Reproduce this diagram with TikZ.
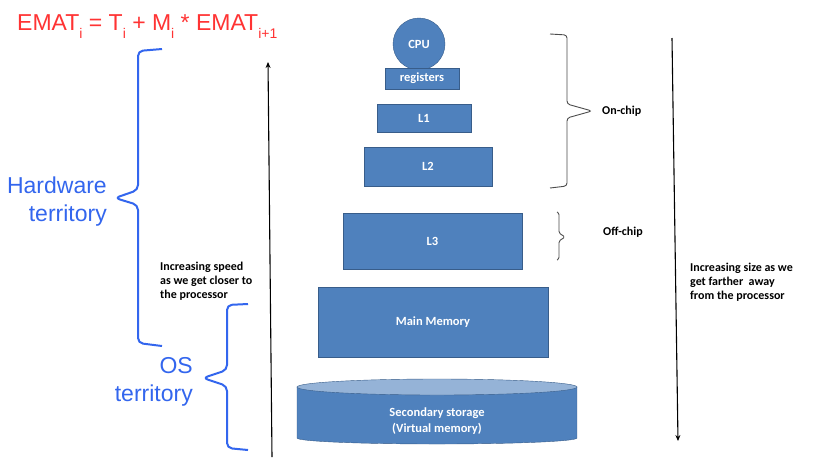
\documentclass[tikz,border=0pt]{standalone}
\usepackage{fontspec}
\setmainfont{Carlito}
\newfontfamily\arialfont{Liberation Sans}
\usetikzlibrary{arrows.meta}
\definecolor{levelblue}{HTML}{4F81BD}
\definecolor{leveledge}{HTML}{385D8A}
\definecolor{disktop}{HTML}{95B3D7}
\definecolor{emared}{HTML}{FF3333}
\definecolor{terrblue}{HTML}{3366EE}
\tikzstyle{level} = [draw=leveledge, fill=levelblue, text=white,
    font=\fontsize{12.5}{14}\selectfont\bfseries, inner sep=0]
\tikzstyle{note} = [font=\fontsize{12}{14}\selectfont\bfseries, align=left, inner sep=0]
\tikzstyle{chipbrace} = [draw=black!70, line width=0.9pt, rounded corners=3pt]
\tikzstyle{terrbrace} = [draw=terrblue, line width=2pt, rounded corners=5pt]
\tikzstyle{terrtext} = [text=terrblue, font=\arialfont\fontsize{23}{28}\selectfont,
    align=right, inner sep=0]
\tikzstyle{axis} = [line width=1.1pt, -{Stealth[length=6pt,width=5pt]}]
\newcommand{\lowsub}[1]{\raisebox{-8pt}{\fontsize{14}{14}\selectfont #1}}

\begin{document}
\begin{tikzpicture}[x=1pt, y=-1pt]
    \useasboundingbox[fill=white] (0,0) rectangle (814,475);

    \node[text=emared, font=\arialfont\fontsize{23}{28}\selectfont, anchor=base west,
        inner sep=0] (ematline) at (17,30)
        {EMAT\lowsub{i} = T\lowsub{i} + M\lowsub{i} * EMAT\lowsub{i+1}};

    % memory levels
    \node[level, circle, minimum size=52pt] (cpu) at (419,44) {CPU};
    \node[level, minimum width=74pt, minimum height=21pt] (regs) at (422,78.5) {registers};
    \node[level, minimum width=94pt, minimum height=28pt] (lone) at (424,118) {L1};
    \node[level, minimum width=128pt, minimum height=39pt] (ltwo) at (428,166.5) {L2};
    \node[level, minimum width=179pt, minimum height=56pt] (lthree) at (432.5,241) {L3};
    \node[level, minimum width=230pt, minimum height=70pt] (mainmem) at (433,322) {Main Memory};

    % disk
    \fill[levelblue] (297,387) rectangle (577,438);
    \fill[levelblue] (437,438) ellipse[x radius=140, y radius=6];
    \draw[leveledge] (297,387) -- (297,438)
        arc[start angle=180, end angle=0, x radius=140, y radius=6] -- (577,387);
    \draw[leveledge, fill=disktop] (437,387) ellipse[x radius=140, y radius=8];
    \node[text=white, font=\fontsize{12.5}{16}\selectfont\bfseries, align=center,
        inner sep=0] (disk) at (437,421) {Secondary storage\\(Virtual memory)};

    % speed and size
    \coordinate (speedlow) at (272,457);
    \coordinate (speedhigh) at (268,62);
    \draw[axis] (speedlow) -- (speedhigh);
    \coordinate (sizehigh) at (672,38);
    \coordinate (sizelow) at (678,441);
    \draw[axis] (sizehigh) -- (sizelow);
    \node[note, anchor=north west] (speedtext) at (160,262)
        {Increasing speed\\as we get closer to\\the processor};
    \node[note, anchor=north west] (sizetext) at (690,263)
        {Increasing size as we\\get farther~ away\\from the processor};

    % chip braces
    \draw[chipbrace] (550,34) -- (567,35) -- (567,104) -- (592,111) -- (567,118)
        -- (567,186) -- (550,188);
    \node[note, anchor=west] (onchip) at (602,111) {On-chip};
    \draw[chipbrace, rounded corners=1.5pt] (557,212) -- (559,213) -- (559,233)
        -- (565,237) -- (559,241) -- (559,259) -- (557,260);
    \node[note, anchor=west] (offchip) at (603,232) {Off-chip};

    % territories
    \draw[terrbrace] (162,49) -- (138,51) -- (138,190) -- (115,198) -- (138,205)
        -- (138,343) -- (162,346);
    \node[terrtext, anchor=east] (hwterr) at (107,202) {Hardware\\territory};
    \draw[terrbrace] (248,304) -- (227,305) -- (227,370) -- (203,378) -- (227,386)
        -- (227,448) -- (248,450);
    \node[terrtext, anchor=east] (osterr) at (193,382) {OS\\territory};
\end{tikzpicture}
\end{document}
